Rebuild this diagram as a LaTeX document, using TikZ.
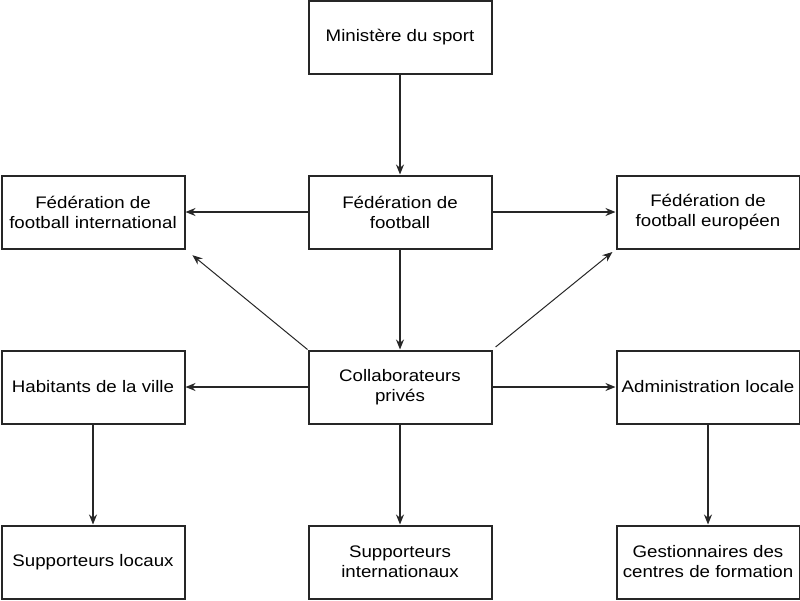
\documentclass[tikz,border=0pt]{standalone}
\usepackage{fontspec}
\setmainfont{Liberation Sans}[FakeStretch=1.12]
\usetikzlibrary{arrows.meta}
\begin{document}
\begin{tikzpicture}[x=1pt,y=-1pt,
  box/.style={draw=black!85, line width=2pt, rectangle, minimum width=183pt, minimum height=73pt,
    align=center, inner sep=0pt, font=\fontsize{16.7}{20}\selectfont},
  arr/.style={draw=black!85, line width=1.4pt, -{Stealth[length=10pt,width=8pt]}},
  darr/.style={draw=black!85, line width=1pt, -{Stealth[length=10pt,width=8pt]}}]
\useasboundingbox (0,0) rectangle (800,600);
\node[box] (min) at (400,37.5) {Ministère du sport};
\node[box] (fed) at (400,212) {Fédération de\\football};
\node[box] (int) at (93,212) {Fédération de\\football international};
\node[box] (eur) at (708,212) {Fédération de\\football européen};
\node[box] (col) at (400,387) {Collaborateurs\\privés};
\node[box] (hab) at (93,387) {Habitants de la ville};
\node[box] (adm) at (708,387) {Administration locale};
\node[box] (sl) at (93,562) {Supporteurs locaux};
\node[box] (si) at (400,562) {Supporteurs\\internationaux};
\node[box] (ges) at (708,562) {Gestionnaires des\\centres de formation};
\draw[arr] (min) -- (fed);
\draw[arr] (fed) -- (int);
\draw[arr] (fed) -- (eur);
\draw[arr] (fed) -- (col);
\draw[darr, shorten >=9pt] (col.north west) -- (int.south east);
\draw[darr, shorten <=4pt, shorten >=4pt] (col.north east) -- (eur.south west);
\draw[arr] (col) -- (hab);
\draw[arr] (col) -- (adm);
\draw[arr] (col) -- (si);
\draw[arr] (hab) -- (sl);
\draw[arr] (adm) -- (ges);
\end{tikzpicture}
\end{document}
